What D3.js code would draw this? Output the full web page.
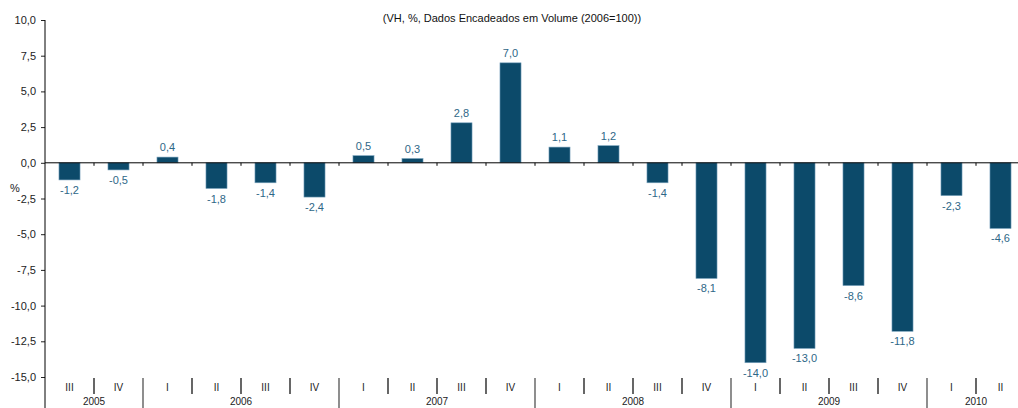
<!DOCTYPE html>
<html><head><meta charset="utf-8">
<script src="https://cdn.jsdelivr.net/npm/d3@7"></script>
<style>body{margin:0;background:#fff;} svg{display:block;font-family:"Liberation Sans",Arial,sans-serif;}</style>
</head><body>
<svg id="c" width="1018" height="408"></svg>
<script>
const quarters = ["III","IV","I","II","III","IV","I","II","III","IV","I","II","III","IV","I","II","III","IV","I","II"];
const yearOf   = [2005,2005,2006,2006,2006,2006,2007,2007,2007,2007,2008,2008,2008,2008,2009,2009,2009,2009,2010,2010];
const values   = [-1.2,-0.5,0.4,-1.8,-1.4,-2.4,0.5,0.3,2.8,7.0,1.1,1.2,-1.4,-8.1,-14.0,-13.0,-8.6,-11.8,-2.3,-4.6];
const yTicks   = [10,7.5,5,2.5,0,-2.5,-5,-7.5,-10,-12.5,-15];
const subtitle = "(VH, %, Dados Encadeados em Volume (2006=100))";

const svg = d3.select("#c");
const fmt = v => d3.format(".1f")(v).replace(".", ",").replace("−","-");
const idx = d3.range(values.length);
const x = d3.scaleBand().domain(idx).range([45, 1025]).paddingInner(0.57).paddingOuter(0.285);
const y = d3.scaleLinear().domain([-15, 10]).range([377, 20]);
const step = x.step();
const x0 = 45;

// subtitle
svg.append("text").attr("x", 512).attr("y", 22).attr("text-anchor","middle")
  .attr("font-size", 11).attr("fill","#111").text(subtitle);

// y axis
const yAxis = d3.axisLeft(y).tickValues(yTicks).tickSize(4).tickPadding(5).tickFormat(fmt);
const ga = svg.append("g").attr("transform", `translate(${x0},0)`).call(yAxis);
ga.select(".domain").remove();
ga.selectAll("text").attr("font-size", 11).attr("fill","#222").style("font-family","Liberation Sans, Arial, sans-serif");
ga.selectAll("line").attr("stroke","#222");
svg.append("line").attr("x1", x0).attr("x2", x0).attr("y1", y(10)).attr("y2", 408).attr("stroke","#000");
svg.append("text").attr("x", 10).attr("y", 192).attr("font-size", 11).attr("fill","#222").text("%");

// bars
svg.selectAll("rect.bar").data(values).join("rect").attr("class","bar")
  .attr("x", (d,i) => x(i)).attr("width", x.bandwidth())
  .attr("y", d => y(Math.max(0,d))).attr("height", d => Math.abs(y(d) - y(0)))
  .attr("fill", "#0c4a6a").attr("stroke", "#7aa3bd").attr("stroke-width", 0.6);

// zero line and ticks
svg.append("line").attr("x1", x0).attr("x2", 1018).attr("y1", y(0)).attr("y2", y(0)).attr("stroke","#000");
svg.selectAll("line.zt").data(d3.range(1, values.length)).join("line").attr("class","zt")
  .attr("x1", i => x0 + i*step).attr("x2", i => x0 + i*step)
  .attr("y1", y(0)).attr("y2", y(0) + 3).attr("stroke","#000");

// value labels
svg.selectAll("text.val").data(values).join("text").attr("class","val")
  .attr("x", (d,i) => x(i) + x.bandwidth()/2)
  .attr("y", d => d >= 0 ? y(d) - 6 : y(d) + 14)
  .attr("text-anchor","middle").attr("font-size", 11).attr("fill","#2e6787")
  .text(fmt);

// category axis
svg.selectAll("text.q").data(quarters).join("text").attr("class","q")
  .attr("x", (d,i) => x0 + (i+0.5)*step).attr("y", 391)
  .attr("text-anchor","middle").attr("font-size", 10).attr("fill","#222").text(d => d);
svg.selectAll("line.qs").data(d3.range(1, values.length)).join("line").attr("class","qs")
  .attr("x1", i => x0 + i*step).attr("x2", i => x0 + i*step)
  .attr("y1", 378).attr("y2", i => yearOf[i] !== yearOf[i-1] ? 408 : 394)
  .attr("stroke", i => yearOf[i] !== yearOf[i-1] ? "#444" : "#000").attr("stroke-width", 1.2);

const years = Array.from(new Set(yearOf));
svg.selectAll("text.yr").data(years).join("text").attr("class","yr")
  .attr("x", yr => {
    const first = yearOf.indexOf(yr), last = yearOf.lastIndexOf(yr);
    return x0 + (first + last + 1)/2 * step;
  })
  .attr("y", 405).attr("text-anchor","middle").attr("font-size", 10).attr("fill","#222").text(d => d);
</script>
</body></html>
